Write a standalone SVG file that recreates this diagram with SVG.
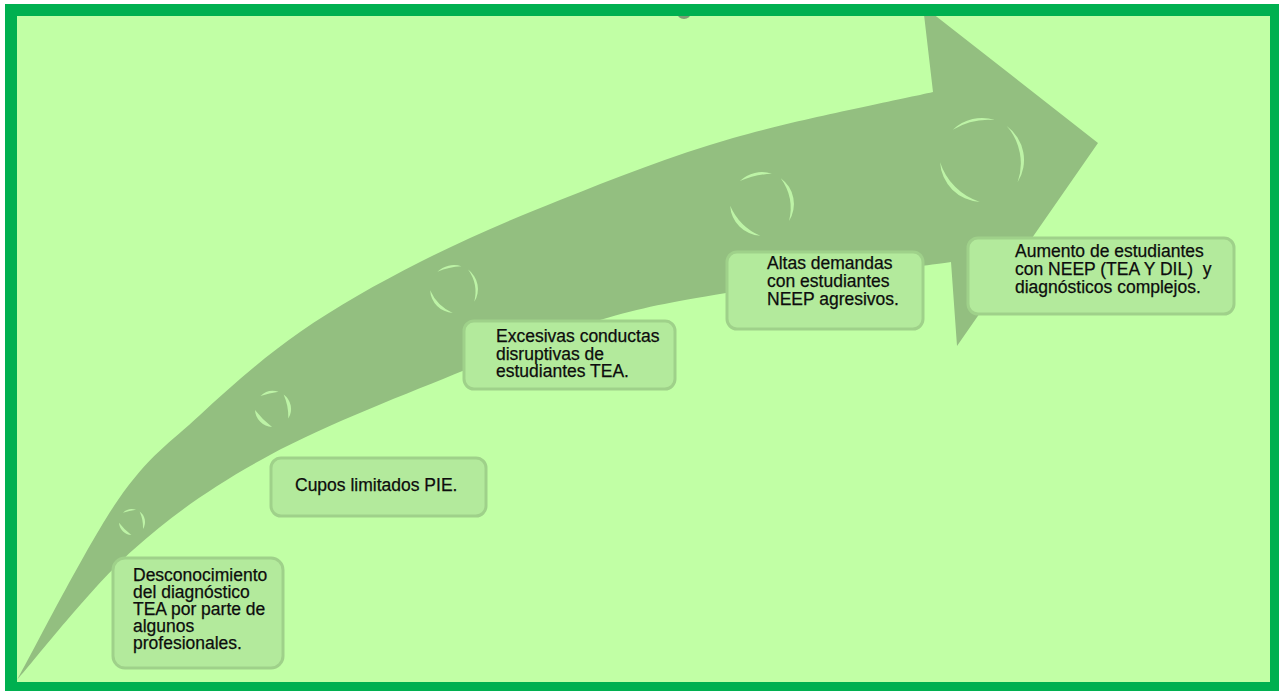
<svg xmlns="http://www.w3.org/2000/svg" xmlns:xlink="http://www.w3.org/1999/xlink" width="1279" height="691" viewBox="0 0 1279 691">
<style>
.box{fill:#B3EA9C;stroke:#9FD18A;stroke-width:3}
.lbl{font-family:"Liberation Sans",Arial,sans-serif;font-size:17.5px;fill:#0d0d0d;stroke:#0d0d0d;stroke-width:0.25}
.arc{fill:#BDF3A6;stroke:none}
</style>
<defs>
<g id="ringA">
<path class="arc" d="M-29.2,-30.2 A42,42 0 0 1 13,-39.9 A68.6,68.6 0 0 0 -29.2,-30.2 Z"/>
<path class="arc" d="M24.7,-34 A42,42 0 0 1 35.6,22.3 A56.6,56.6 0 0 0 24.7,-34 Z"/>
<path class="arc" d="M-2.2,41.9 A42,42 0 0 1 -41.9,2.2 A61.5,61.5 0 0 0 -2.2,41.9 Z"/>
</g>
<g id="ringB">
<path class="arc" d="M-29.2,-30.2 A42,42 0 0 1 13,-39.9 A118,118 0 0 0 -29.2,-30.2 Z"/>
<path class="arc" d="M24.7,-34 A42,42 0 0 1 35.6,22.3 A68.4,68.4 0 0 0 24.7,-34 Z"/>
<path class="arc" d="M-2.2,41.9 A42,42 0 0 1 -41.9,2.2 A77.3,77.3 0 0 0 -2.2,41.9 Z"/>
</g>
<g id="ringC">
<path class="arc" d="M-29.2,-30.2 A42,42 0 0 1 13,-39.9 A234.5,234.5 0 0 0 -29.2,-30.2 Z"/>
<path class="arc" d="M24.7,-34 A42,42 0 0 1 35.6,22.3 A126.7,126.7 0 0 0 24.7,-34 Z"/>
<path class="arc" d="M-2.2,41.9 A42,42 0 0 1 -41.9,2.2 A221.5,221.5 0 0 0 -2.2,41.9 Z"/>
</g>
</defs>
<rect x="0" y="0" width="1279" height="691" fill="#FFFFFF"/>
<rect x="11" y="10" width="1265" height="678" fill="#C1FFA5"/>
<ellipse cx="684" cy="13" rx="7" ry="6" fill="#7F9C74"/>
<g id="arrow">
<path fill="#93BF80" d="M17,680 C33.8,650 87.5,544.2 118,500 C148.5,455.8 169.7,443 200,415 C230.3,387 263.3,357.5 300,332 C336.7,306.5 376.7,284 420,262 C463.3,240 507.8,220.7 560,200 C612.2,179.3 670.8,156 733,138 C795.2,120 899.7,99.7 933,92 L923,6 L1098,143 L957,346 L951,262 C913.5,267.2 784.5,283.3 726,293 C667.5,302.7 643.5,307.2 600,320 C556.5,332.8 520,347.5 465,370 C410,392.5 325.3,425 270,455 C214.7,485 175.2,512.5 133,550 C90.8,587.5 36.3,658.3 17,680 Z"/>
<use xlink:href="#ringC" transform="translate(132,522) scale(0.31)"/>
<use xlink:href="#ringC" transform="translate(273,409) scale(0.43)"/>
<use xlink:href="#ringB" transform="translate(454,289) scale(0.57)"/>
<use xlink:href="#ringB" transform="translate(762,204) scale(0.76)"/>
<use xlink:href="#ringA" transform="translate(982,160)"/>
</g>
<g id="node1">
<rect class="box" x="113" y="558" width="170" height="110" rx="12"/>
<text class="lbl"><tspan x="133" y="581">Desconocimiento</tspan><tspan x="133" y="598">del diagnóstico</tspan><tspan x="133" y="615">TEA por parte de</tspan><tspan x="133" y="632">algunos</tspan><tspan x="133" y="649">profesionales.</tspan></text>
</g>
<g id="node2">
<rect class="box" x="271" y="458" width="215" height="58" rx="10"/>
<text class="lbl" x="295" y="491">Cupos limitados PIE.</text>
</g>
<g id="node3">
<rect class="box" x="464" y="321" width="211" height="68" rx="10"/>
<text class="lbl"><tspan x="496" y="342">Excesivas conductas</tspan><tspan x="496" y="359.5">disruptivas de</tspan><tspan x="496" y="377">estudiantes TEA.</tspan></text>
</g>
<g id="node4">
<rect class="box" x="727" y="252" width="196" height="77" rx="10"/>
<text class="lbl"><tspan x="767" y="269">Altas demandas</tspan><tspan x="767" y="287">con estudiantes</tspan><tspan x="767" y="305">NEEP agresivos.</tspan></text>
</g>
<g id="node5">
<rect class="box" x="968" y="238" width="266" height="76" rx="10"/>
<text class="lbl" xml:space="preserve"><tspan x="1015" y="257">Aumento de estudiantes</tspan><tspan x="1015" y="275">con NEEP (TEA Y DIL)  y</tspan><tspan x="1015" y="293">diagnósticos complejos.</tspan></text>
</g>
<g id="connectors"></g>
<rect x="11" y="10" width="1265" height="678" fill="none" stroke="#00B050" stroke-width="12"/>
</svg>
